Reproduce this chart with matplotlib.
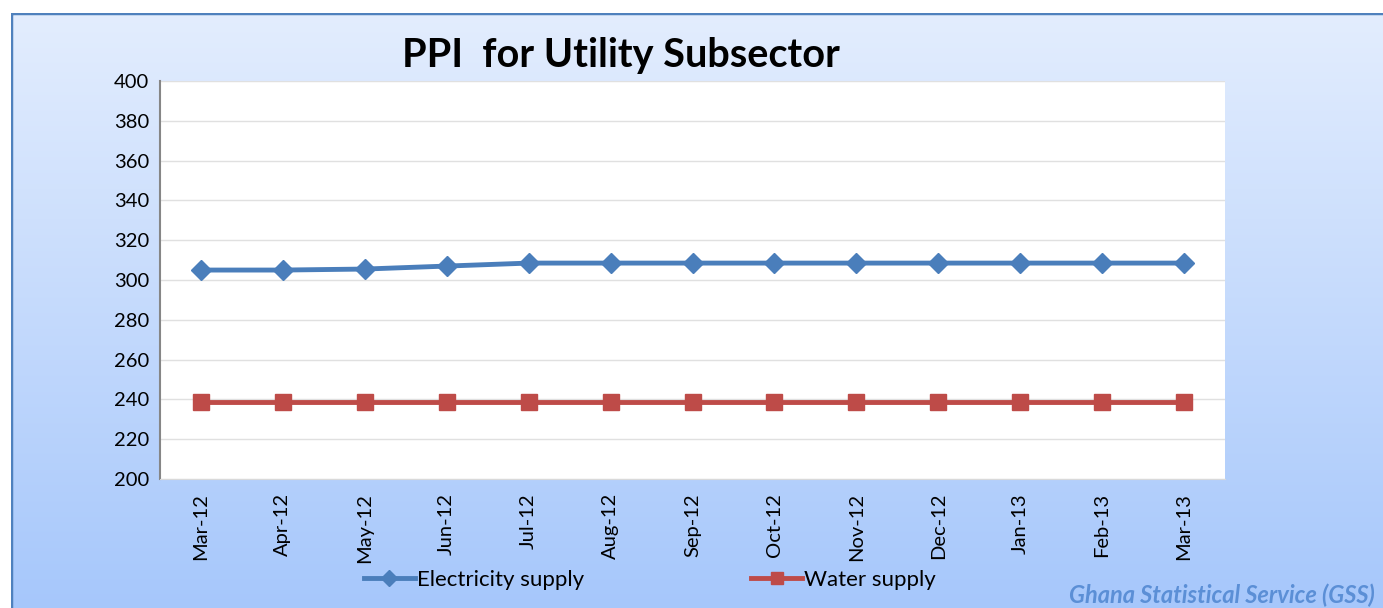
import numpy as np
import matplotlib.pyplot as plt
from matplotlib.patches import Rectangle

plt.rcParams['font.family'] = ['Lato', 'DejaVu Sans']

# Data
months = ["Mar-12", "Apr-12", "May-12", "Jun-12", "Jul-12", "Aug-12", "Sep-12",
          "Oct-12", "Nov-12", "Dec-12", "Jan-13", "Feb-13", "Mar-13"]
electricity = [305.0, 305.0, 305.5, 307.0, 308.5, 308.5, 308.5,
               308.5, 308.5, 308.5, 308.5, 308.5, 308.5]
water = [238.6] * 13

W, H = 1383, 608
fig = plt.figure(figsize=(W / 100, H / 100), dpi=100)

# gradient background
bg = fig.add_axes([0, 0, 1, 1], zorder=0)
grad = np.linspace(0, 1, 256).reshape(-1, 1)
c_top = np.array([0.89, 0.93, 0.995])
c_bot = np.array([0.65, 0.78, 0.985])
img = c_top + (c_bot - c_top) * grad[:, :, None]
bg.imshow(img, extent=[11, W + 5, H + 5, 13], aspect='auto')
bg.add_patch(Rectangle((11, 13), W, H, fill=False, ec='#4f81bd', lw=2.5))
bg.add_patch(Rectangle((0, 0), W, 13, fc='white', ec='none'))
bg.add_patch(Rectangle((0, 0), 11, H, fc='white', ec='none'))
bg.set_xlim(0, W)
bg.set_ylim(H, 0)
bg.axis('off')

# main plot area
ax = fig.add_axes([160 / W, 1 - 479 / H, (1225 - 160) / W, (479 - 81) / H], zorder=1)
ax.set_facecolor('white')
x = np.arange(len(months))
ax.plot(x, electricity, color='#4a7ebb', lw=3.5, marker='D', ms=10,
        label='Electricity supply')
ax.plot(x, water, color='#be4b48', lw=3.5, marker='s', ms=11,
        label='Water supply')

ax.set_xlim(-0.5, len(months) - 0.5)
ax.set_ylim(200, 400)
ax.set_yticks(np.arange(200, 401, 20))
ax.set_xticks(x)
ax.set_xticklabels(months, rotation=90)
ax.tick_params(axis='both', labelsize=14.5, length=0)
ax.tick_params(axis='y', pad=8)
ax.tick_params(axis='x', pad=10)
ax.grid(axis='y', color='#e0e0e0', lw=1)
ax.set_axisbelow(True)
for s in ['top', 'right']:
    ax.spines[s].set_visible(False)
ax.spines['left'].set_color('#868686')
ax.spines['left'].set_linewidth(1.5)
ax.spines['bottom'].set_color('#d9d9d9')

fig.text(621 / W, 1 - 55 / H, "PPI  for Utility Subsector", ha='center', va='center',
         fontsize=28.5, fontweight='bold')

leg = fig.legend(loc='center', bbox_to_anchor=(650 / W, 1 - 580 / H), ncol=2,
                 frameon=False, fontsize=16, columnspacing=7.5, handlelength=2.3,
                 handletextpad=0.1, markerscale=0.8)

fig.text(1375 / W, 1 - 595 / H, "Ghana Statistical Service (GSS)", ha='right',
         va='center', fontsize=17, fontweight='bold', style='italic', color='#5b8fd6')

fig.savefig('out.png', dpi=100)
